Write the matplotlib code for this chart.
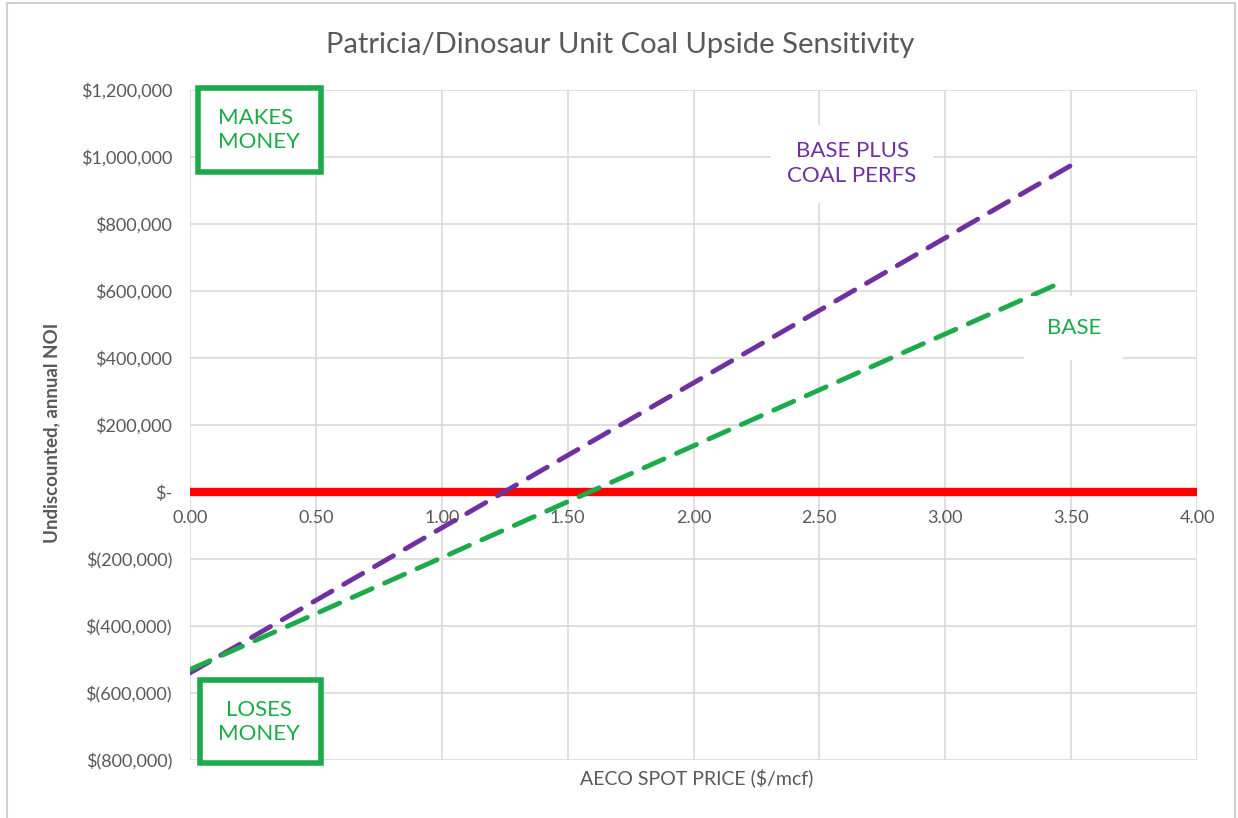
import matplotlib.pyplot as plt
from matplotlib.ticker import FuncFormatter, MultipleLocator
from matplotlib.lines import Line2D
from matplotlib.patches import Rectangle

plt.rcParams['font.family'] = ['Lato', 'DejaVu Sans']

# AECO spot price ($/mcf) at the ends of each straight line
price_base = [0.0, 3.45]
noi_base = [-530000, 622000]
price_coal = [0.0, 3.5]
noi_coal = [-540000, 975000]

x_ticks = [0.0, 0.5, 1.0, 1.5, 2.0, 2.5, 3.0, 3.5, 4.0]
y_ticks = [1200000, 1000000, 800000, 600000, 400000, 200000, 0,
           -200000, -400000, -600000, -800000]

purple = '#7030A0'
green = '#1DAA4A'
gray = '#595959'


def dollars(v, pos):
    if v == 0:
        return '$-'
    if v < 0:
        return '$({:,.0f})'.format(-v)
    return '${:,.0f}'.format(v)


fig = plt.figure(figsize=(12.38, 8.18), dpi=100)
ax = fig.add_axes([190 / 1238, 1 - 760 / 818, 1007 / 1238, 670 / 818])

ax.set_xlim(0, 4)
ax.set_ylim(-800000, 1200000)
ax.set_xticks(x_ticks)
ax.set_yticks(y_ticks)
ax.yaxis.set_major_formatter(FuncFormatter(dollars))
ax.set_xticklabels([])
ax.grid(True, color='#D9D9D9', linewidth=1.2)
ax.set_axisbelow(True)
for s in ax.spines.values():
    s.set_visible(False)
ax.tick_params(length=0, colors=gray, labelsize=13)
ax.tick_params(axis='y', pad=13)

# x tick labels sit just under the zero line
for xv in x_ticks:
    ax.text(xv, -78000, '{:.2f}'.format(xv), ha='center', va='center',
            fontsize=13, color=gray)

ax.axhline(0, color='#FF0000', linewidth=6, zorder=2)
ax.plot(price_coal, noi_coal, color=purple, linewidth=3.5,
        dashes=(4.5, 2.8), dash_capstyle='round', zorder=3)
ax.plot(price_base, noi_base, color=green, linewidth=3.5,
        dashes=(4.5, 2.8), dash_capstyle='round', zorder=3)

ax.text(2.63, 980000, 'BASE PLUS\nCOAL PERFS', color=purple, fontsize=16,
        ha='center', va='center', linespacing=1.3,
        bbox=dict(facecolor='white', edgecolor='none', pad=12))
ax.text(3.51, 490000, 'BASE', color=green, fontsize=16,
        ha='center', va='center',
        bbox=dict(facecolor='white', edgecolor='none', pad=16))

# MAKES / LOSES MONEY boxes
ax.add_patch(Rectangle((0.032, 955000), 0.488, 250000, facecolor='white',
                       edgecolor=green, linewidth=4, zorder=4, clip_on=False))
ax.text(0.11, 1080000, 'MAKES\nMONEY', color=green, fontsize=16,
        ha='left', va='center', linespacing=1.25, zorder=5)
ax.add_patch(Rectangle((0.04, -810000), 0.48, 250000, facecolor='white',
                       edgecolor=green, linewidth=4, zorder=4, clip_on=False))
ax.text(0.275, -686000, 'LOSES\nMONEY', color=green, fontsize=16,
        ha='center', va='center', linespacing=1.25, zorder=5)

fig.text(620 / 1238, 1 - 45 / 818,
         'Patricia/Dinosaur Unit Coal Upside Sensitivity',
         ha='center', va='center', fontsize=21, color=gray)
fig.text(697 / 1238, 1 - 778 / 818, 'AECO SPOT PRICE ($/mcf)',
         ha='center', va='center', fontsize=14, color=gray)
fig.text(52 / 1238, 1 - 433 / 818, 'Undiscounted, annual NOI',
         ha='center', va='center', rotation=90, fontsize=13.5,
         color=gray, fontweight='bold')

# thin frame around the chart
frame = dict(color='#D0D0D0', linewidth=1.5)
fig.add_artist(Line2D([7 / 1238, 7 / 1238], [0, 1 - 3 / 818], **frame))
fig.add_artist(Line2D([7 / 1238, 1235 / 1238], [1 - 3 / 818, 1 - 3 / 818], **frame))
fig.add_artist(Line2D([1235 / 1238, 1235 / 1238], [0, 1 - 3 / 818], **frame))

fig.savefig('out.png', dpi=100)
